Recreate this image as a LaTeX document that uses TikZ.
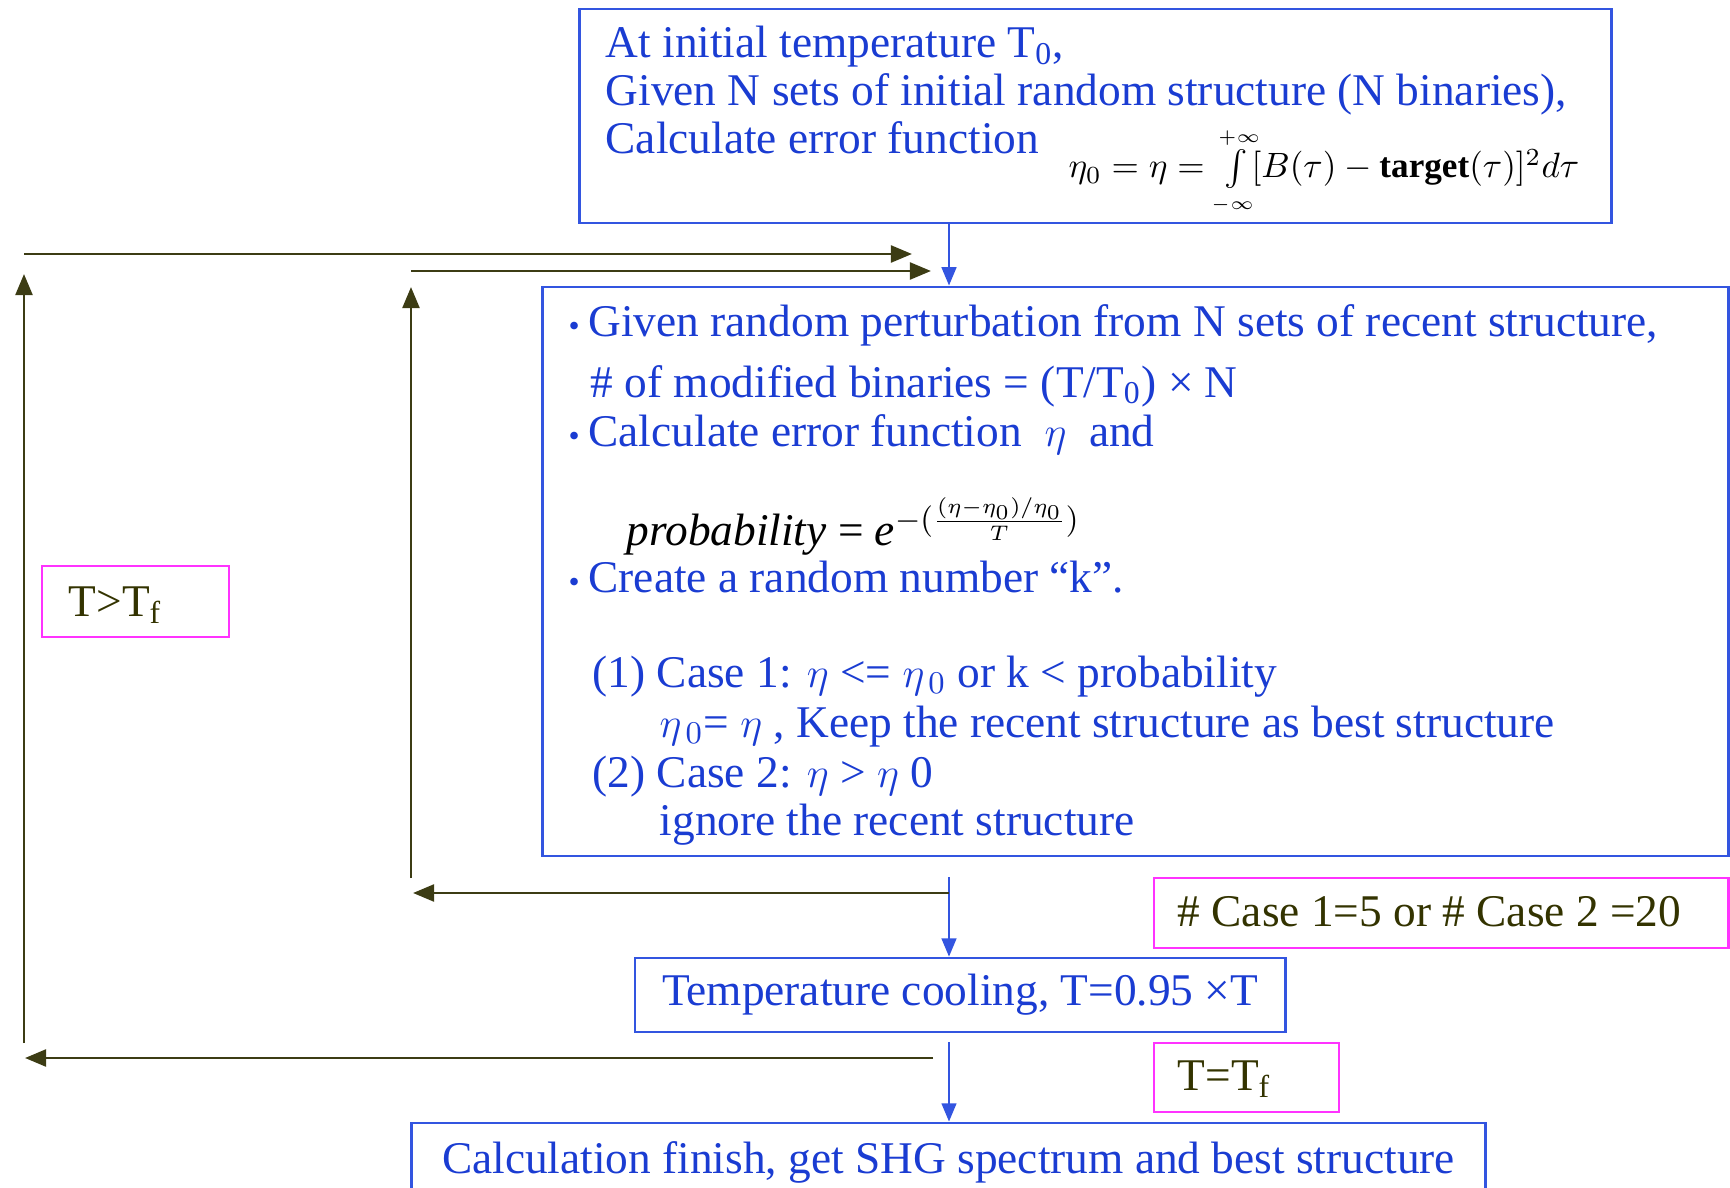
\documentclass[tikz,border=0pt]{standalone}
\usepackage{amsmath,amssymb}
\usepackage{fontspec}
\setmainfont{Liberation Serif}
\usepackage{xcolor}
\usepackage{tikz}
\usetikzlibrary{arrows.meta,positioning,calc}
\providecommand{\ftext}{\fontsize{12.9pt}{15pt}\selectfont}
\providecommand{\bul}{{\small\textbullet}\hspace{2.5pt}}
\definecolor{flowBlue}{HTML}{1A3CD2}
\definecolor{frameBlue}{HTML}{3355E0}
\definecolor{loopOlive}{HTML}{3C3C14}
\definecolor{condText}{HTML}{333300}
\definecolor{condPink}{HTML}{FF33FF}

\begin{document}
\begin{tikzpicture}[
    x=0.01cm, y=-0.01cm,
    every node/.style={font=\ftext, inner sep=0pt},
    flowbox/.style={draw=frameBlue, line width=0.75pt},
    condbox/.style={draw=condPink, line width=0.75pt},
    downflow/.style={frameBlue, line width=0.6pt, -{Triangle[length=5.2pt,width=4.2pt]}},
    backline/.style={loopOlive, line width=0.8pt, -{Triangle[length=6pt,width=4.8pt]}},
    txt/.style={anchor=base west, text=flowBlue},
    cond/.style={anchor=base west, text=condText}
  ]
  \useasboundingbox (0,0) rectangle (1730,1188);
  \clip (0,0) rectangle (1730,1188);
  \coordinate (spine) at (949,0);

  %% Boxes of the main flow
  \node[flowbox, minimum width=10.31cm, minimum height=2.14cm] (init) at (1095.5,116) {};
  \node[flowbox, minimum width=11.85cm, minimum height=5.69cm] (perturb) at (1135.5,571.5) {};
  \node[flowbox, minimum width=6.50cm, minimum height=0.74cm, text=flowBlue] (cooling) at (960,995)
    {Temperature cooling, T=0.95 ×T};
  \node[flowbox, minimum width=10.73cm, minimum height=0.79cm, text=flowBlue] (finish) at (948.5,1162.4)
    {Calculation finish, get SHG spectrum and best structure};

  %% Text of the first box
  \foreach \ln/\yy [count=\i] in {
      {At initial temperature T\textsubscript{0},}/58,
      {Given N sets of initial random structure (N binaries),}/106,
      {Calculate error function}/154
    }{
    \node[txt] (init-\i) at (605,\yy) {\ln};
  }
  \node[anchor=base west, font=\fontsize{10pt}{12pt}\selectfont] (init-eq) at (1068,178)
    {$\eta_0 = \eta = \int\limits_{\scriptscriptstyle-\infty}^{\smash{\scriptscriptstyle+\infty}}\![B(\tau) - \textbf{target}(\tau)]^2 d\tau$};

  %% Text of the perturbation box
  \foreach \xx/\yy/\ln [count=\i] in {
      568/336/{\bul Given random perturbation from N sets of recent structure,},
      590/397/{\# of modified binaries = (T/T\textsubscript{0}) × N},
      568/446/{\bul Calculate error function \ $\eta$ \ and},
      568/592/{\bul Create a random number “k”.},
      592/687/{(1) Case 1: $\eta$ <= $\eta_{\,0}$ or k < probability},
      659/737/{$\eta_{\,0}$= $\eta$ , Keep the recent structure as best structure},
      592/787/{(2) Case 2: $\eta$ > $\eta$ 0},
      659/835/{ignore the recent structure}
    }{
    \node[txt] (perturb-\i) at (\xx,\yy) {\ln};
  }
  \node[anchor=base west] (prob) at (626,545)
    {\textit{probability} = \textit{e}$^{-(\frac{(\eta-\eta_0)/\eta_0}{T})}$};

  %% Stop conditions
  \node[condbox, minimum width=1.87cm, minimum height=0.71cm] (gtf) at (135.5,601.5) {};
  \node[cond] (gtf-t) at (68,616) {T>T\textsubscript{f}};
  \node[condbox, minimum width=5.74cm, minimum height=0.70cm] (ncase) at (1441,913) {};
  \node[cond] (ncase-t) at (1177,926) {\# Case 1=5 or \# Case 2 =20};
  \node[condbox, minimum width=1.85cm, minimum height=0.69cm] (eqf) at (1246.5,1077.5) {};
  \node[cond] (eqf-t) at (1177,1090) {T=T\textsubscript{f}};

  %% Downward flow
  \coordinate (split-a) at (949,877);
  \coordinate (split-b) at (949,1042);
  \draw[downflow] (init.south -| spine) -- (perturb.north -| spine);
  \draw[downflow] (split-a) -- (cooling.north -| spine);
  \draw[downflow] (split-b) -- (finish.north -| spine);

  %% Inner loop, same temperature
  \coordinate (in-r) at (949,893);
  \coordinate (in-l) at (413,893);
  \coordinate (in-low) at (411,878);
  \coordinate (in-top) at (411,287);
  \coordinate (in-up) at (411,271);
  \coordinate (in-end) at (931,271);
  \draw[backline] (in-r) -- (in-l);
  \draw[backline] (in-low) -- (in-top);
  \draw[backline] (in-up) -- (in-end);

  %% Outer loop, next temperature
  \coordinate (out-r) at (933,1058);
  \coordinate (out-l) at (25,1058);
  \coordinate (out-low) at (24,1043);
  \coordinate (out-top) at (24,274);
  \coordinate (out-up) at (24,254);
  \coordinate (out-end) at (912,254);
  \draw[backline] (out-r) -- (out-l);
  \draw[backline] (out-low) -- (out-top);
  \draw[backline] (out-up) -- (out-end);
\end{tikzpicture}
\end{document}
